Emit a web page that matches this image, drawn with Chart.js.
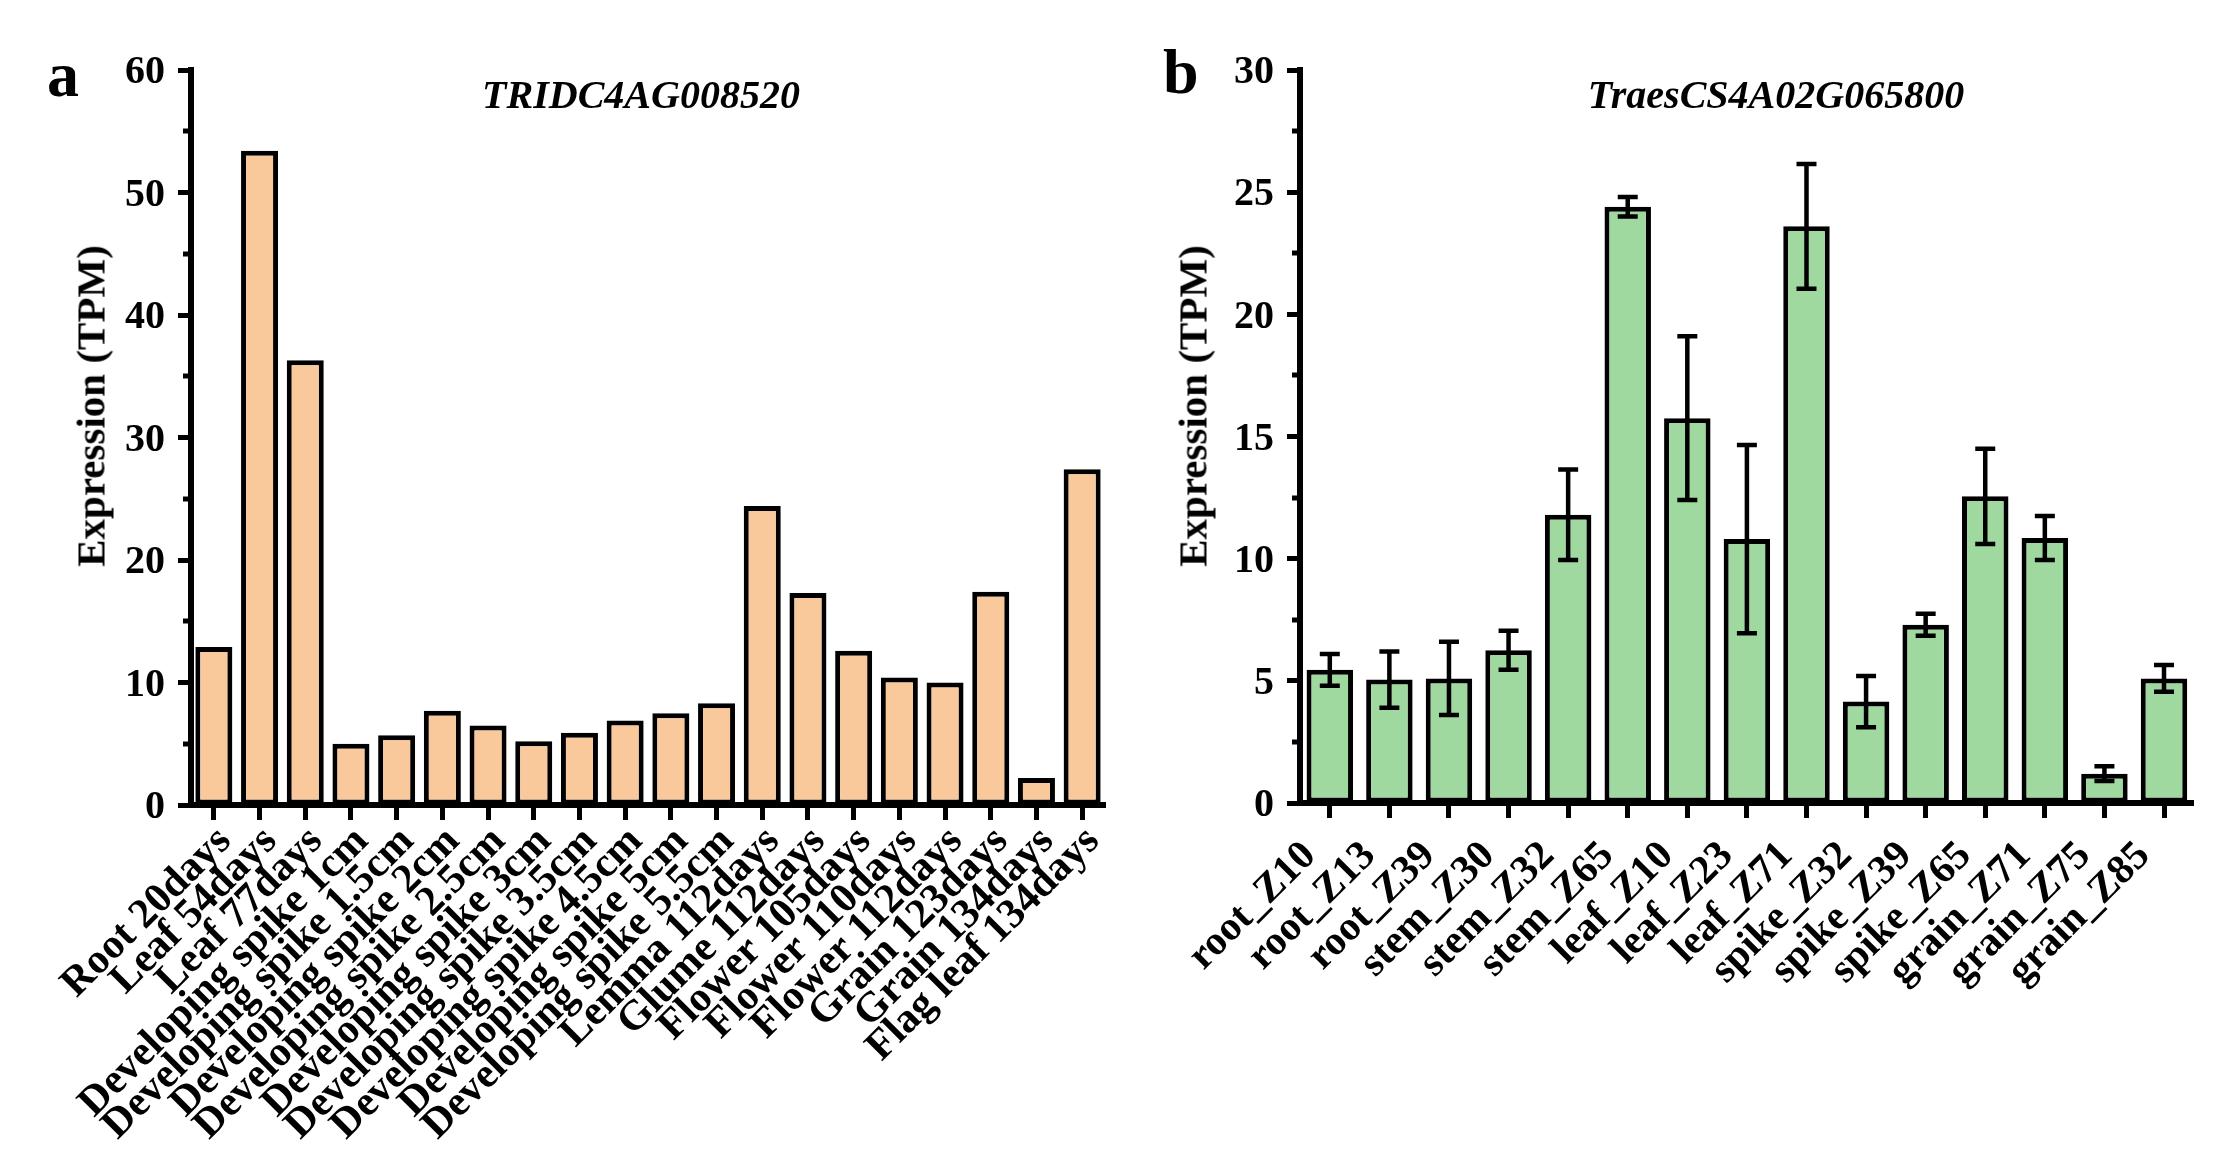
<!DOCTYPE html>
<html>
<head>
<meta charset="utf-8">
<script src="https://cdn.jsdelivr.net/npm/chart.js@4.4.1/dist/chart.umd.min.js"></script>
<style>
  html, body { margin: 0; padding: 0; background: #fff; }
  body { width: 2213px; height: 1153px; position: relative; overflow: hidden;
         font-family: "Liberation Serif", "Times New Roman", serif; }
  canvas { position: absolute; top: 0; }
  #chartA { left: 0; }
  #chartB { left: 1120px; }
  .txt { position: absolute; font-weight: bold; color: #000; line-height: 1; white-space: nowrap; }
  .panel { font-size: 64px; }
  .gene { font-size: 40px; font-style: italic; transform: translateX(-50%); }
  .ytitle { font-size: 41px; transform: translate(-50%, -50%) rotate(-90deg); }
</style>
</head>
<body>
<canvas id="chartA" width="1120" height="1153"></canvas>
<canvas id="chartB" width="1093" height="1153"></canvas>

<div class="txt panel" style="left:47px; top:43px;">a</div>
<div class="txt panel" style="left:1163px; top:40px;">b</div>
<div class="txt gene" style="left:641px; top:75px;">TRIDC4AG008520</div>
<div class="txt gene" style="left:1776px; top:75px;">TraesCS4A02G065800</div>
<div class="txt ytitle" style="left:91px; top:406px;">Expression (TPM)</div>
<div class="txt ytitle" style="left:1193px; top:406px;">Expression (TPM)</div>

<script>
// panel a: expression atlas, one value per tissue
const tissueLabels = [
  "Root 20days", "Leaf 54days", "Leaf 77days",
  "Developing spike 1cm", "Developing spike 1.5cm", "Developing spike 2cm",
  "Developing spike 2.5cm", "Developing spike 3cm", "Developing spike 3.5cm",
  "Developing spike 4.5cm", "Developing spike 5cm", "Developing spike 5.5cm",
  "Lemma 112days", "Glume 112days", "Flower 105days", "Flower 110days",
  "Flower 112days", "Grain 123days", "Grain 134days", "Flag leaf 134days"
];
const tissueTPM = [12.9, 53.4, 36.3, 5.0, 5.7, 7.7, 6.5, 5.2, 5.9, 6.9,
                   7.5, 8.3, 24.4, 17.3, 12.6, 10.4, 10.0, 17.4, 2.2, 27.4];

// panel b: developmental stages, mean and error
const stageLabels = [
  "root_Z10", "root_Z13", "root_Z39", "stem_Z30", "stem_Z32", "stem_Z65",
  "leaf_Z10", "leaf_Z23", "leaf_Z71", "spike_Z32", "spike_Z39", "spike_Z65",
  "grain_Z71", "grain_Z75", "grain_Z85"
];
const stageTPM = [5.45, 5.05, 5.1, 6.25, 11.8, 24.4, 15.75, 10.8, 23.6,
                  4.15, 7.3, 12.55, 10.85, 1.2, 5.1];
const stageErr = [0.65, 1.15, 1.5, 0.8, 1.85, 0.4, 3.35, 3.85, 2.55,
                  1.05, 0.45, 1.95, 0.9, 0.3, 0.55];

const axisMaxA = 60, axisStepA = 10;
const axisMaxB = 30, axisStepB = 5;

Chart.defaults.font.family = '"Liberation Serif", "Times New Roman", serif';
Chart.defaults.font.weight = "bold";
Chart.defaults.color = "#000";

// short ticks half way between the labelled ones
const minorTicks = {
  id: "minorTicks",
  afterDraw(chart) {
    const y = chart.scales.y;
    const x0 = chart.chartArea.left;
    const ctx = chart.ctx;
    ctx.save();
    ctx.strokeStyle = "#000";
    ctx.lineWidth = 5;
    for (let i = 0; i < y.ticks.length - 1; i++) {
      const v = (y.ticks[i].value + y.ticks[i + 1].value) / 2;
      const py = Math.round(y.getPixelForValue(v));
      ctx.beginPath();
      ctx.moveTo(x0 - 8, py);
      ctx.lineTo(x0, py);
      ctx.stroke();
    }
    ctx.restore();
  }
};

const errorBars = {
  id: "errorBars",
  afterDatasetsDraw(chart, args, opts) {
    if (!opts || !opts.values) return;
    const meta = chart.getDatasetMeta(0);
    const y = chart.scales.y;
    const data = chart.data.datasets[0].data;
    const ctx = chart.ctx;
    ctx.save();
    ctx.strokeStyle = "#000";
    ctx.lineWidth = 4.5;
    meta.data.forEach((bar, i) => {
      const e = opts.values[i];
      const top = y.getPixelForValue(data[i] + e);
      const bot = y.getPixelForValue(data[i] - e);
      ctx.beginPath();
      ctx.moveTo(bar.x, top);
      ctx.lineTo(bar.x, bot);
      ctx.moveTo(bar.x - 10, top);
      ctx.lineTo(bar.x + 10, top);
      ctx.moveTo(bar.x - 10, bot);
      ctx.lineTo(bar.x + 10, bot);
      ctx.stroke();
    });
    ctx.restore();
  }
};

function buildChart(id, labels, values, fill, barPct, yMax, yStep, yWidth, xHeight, rightPad, xFont, xPad, xShift, errs) {
  return new Chart(document.getElementById(id), {
    type: "bar",
    data: {
      labels: labels,
      datasets: [{
        data: values,
        backgroundColor: fill,
        borderColor: "#000",
        borderWidth: 5,
        borderSkipped: false,
        barPercentage: barPct,
        categoryPercentage: 1
      }]
    },
    options: {
      responsive: false,
      animation: false,
      layout: { padding: { top: 70, right: rightPad, bottom: 0, left: 0 } },
      plugins: {
        legend: { display: false },
        tooltip: { enabled: false },
        errorBars: { values: errs }
      },
      scales: {
        x: {
          grid: { display: true, drawOnChartArea: false, drawTicks: true, offset: false,
                  tickLength: 15, tickWidth: 5, tickColor: "#000" },
          border: { display: true, width: 6, color: "#000" },
          ticks: { autoSkip: false, minRotation: 45, maxRotation: 45, padding: xPad,
                   labelOffset: xShift,
                   font: { size: xFont, weight: "bold" }, color: "#000" },
          afterFit(s) { s.height = xHeight; }
        },
        y: {
          min: 0,
          max: yMax,
          grid: { display: true, drawOnChartArea: false, drawTicks: true,
                  tickLength: 13, tickWidth: 5, tickColor: "#000" },
          border: { display: true, width: 6, color: "#000" },
          ticks: { stepSize: yStep, padding: 13, labelOffset: 3,
                   font: { size: 40, weight: "bold" }, color: "#000" },
          afterFit(s) { s.width = yWidth; }
        }
      }
    },
    plugins: [minorTicks, errorBars]
  });
}

buildChart("chartA", tissueLabels, tissueTPM, "#f9c99b", 0.81, axisMaxA, axisStepA, 191, 348, 15, 42, -3, 11, null);
buildChart("chartB", stageLabels, stageTPM, "#a0d9a0", 0.78, axisMaxB, axisStepB, 180, 350, 6, 41, 14, -20, stageErr);
</script>
</body>
</html>
